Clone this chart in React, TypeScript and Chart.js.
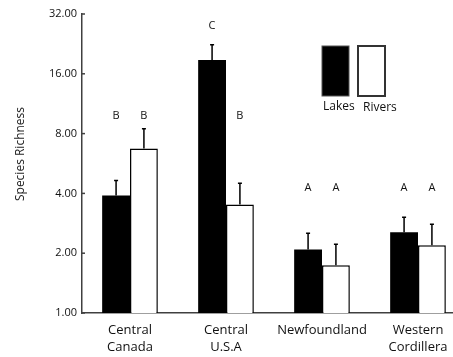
import React, { useEffect, useRef } from "react";
import { Chart, registerables } from "chart.js";
Chart.register(...registerables);

const categories = [["Central", "Canada"], ["Central", "U.S.A"], ["Newfoundland"], ["Western", "Cordillera"]];
const seriesNames = ["Lakes", "Rivers"];
const lakes = [3.9, 18.8, 2.09, 2.55];
const lakesSE = [0.75, 3.6, 0.43, 0.48];
const rivers = [6.73, 3.52, 1.74, 2.19];
const riversSE = [1.74, 0.98, 0.48, 0.61];
const lakesLetters = ["B", "C", "A", "A"];
const riversLetters = ["B", "B", "A", "A"];
const lakesLetterLevel = [9.85, 27.9, 4.29, 4.29];
const riversLetterLevel = [9.85, 9.85, 4.29, 4.29];
const yTicks = [1, 2, 4, 8, 16, 32];
const yTitle = "Species Richness";

const FONT = "'Open Sans'";

export default function App() {
  const ref = useRef<HTMLCanvasElement | null>(null);
  useEffect(() => {
    const canvas = ref.current!;
    const ses = [lakesSE, riversSE];
    const letters = [lakesLetters, riversLetters];
    const levels = [lakesLetterLevel, riversLetterLevel];
    const deco = {
      id: "deco",
      afterDatasetsDraw(chart: any) {
        const ctx = chart.ctx;
        const y = chart.scales.y;
        const area = chart.chartArea;
        ctx.save();
        chart.data.datasets.forEach((ds: any, di: number) => {
          const meta = chart.getDatasetMeta(di);
          meta.data.forEach((el: any, i: number) => {
            const v = ds.data[i];
            const top = y.getPixelForValue(v + ses[di][i]);
            ctx.strokeStyle = "#000";
            ctx.lineWidth = 1.5;
            ctx.beginPath();
            ctx.moveTo(el.x, el.y);
            ctx.lineTo(el.x, top);
            ctx.moveTo(el.x - 2, top);
            ctx.lineTo(el.x + 2, top);
            ctx.stroke();
            ctx.fillStyle = "#111";
            ctx.font = `11px ${FONT}`;
            ctx.textAlign = "center";
            ctx.textBaseline = "middle";
            ctx.fillText(letters[di][i], el.x, y.getPixelForValue(levels[di][i]));
          });
        });
        ctx.strokeStyle = "#404040";
        ctx.lineWidth = 1.5;
        yTicks.forEach((t) => {
          const py = y.getPixelForValue(t);
          ctx.beginPath();
          ctx.moveTo(area.left, py);
          ctx.lineTo(area.left + 3, py);
          ctx.stroke();
        });
        ctx.save();
        ctx.translate(21, 154);
        ctx.rotate(-Math.PI / 2);
        ctx.fillStyle = "#222";
        ctx.font = `12px ${FONT}`;
        ctx.textAlign = "center";
        ctx.textBaseline = "middle";
        ctx.fillText(yTitle, 0, 0);
        ctx.restore();
        const boxes = [
          { x: 322, fill: "#000", stroke: "#555", lw: 1 },
          { x: 358, fill: "#fff", stroke: "#333", lw: 2 },
        ];
        boxes.forEach((b) => {
          ctx.fillStyle = b.fill;
          ctx.fillRect(b.x, 46, 27, 50);
          ctx.strokeStyle = b.stroke;
          ctx.lineWidth = b.lw;
          ctx.strokeRect(b.x, 46, 27, 50);
        });
        ctx.fillStyle = "#111";
        ctx.font = `12px ${FONT}`;
        ctx.textAlign = "left";
        ctx.textBaseline = "middle";
        ctx.fillText(seriesNames[0], 323, 107);
        ctx.fillText(seriesNames[1], 363, 108);
        ctx.restore();
      },
    };
    const chart = new Chart(canvas, {
      type: "bar",
      data: {
        labels: categories as any,
        datasets: [
          { label: seriesNames[0], data: lakes, backgroundColor: "#000", borderWidth: 0 },
          { label: seriesNames[1], data: rivers, backgroundColor: "#fff", borderColor: "#000", borderWidth: 1.5 },
        ],
      },
      options: {
        responsive: false,
        animation: false,
        devicePixelRatio: 1,
        layout: { padding: { left: 0, top: 14, right: 4, bottom: 0 } },
        datasets: { bar: { barPercentage: 1, categoryPercentage: 0.58 } },
        plugins: { legend: { display: false }, tooltip: { enabled: false } },
        scales: {
          x: {
            grid: { display: false, drawTicks: false },
            border: { display: true, color: "#404040", width: 1.5 },
            ticks: { color: "#111", font: { family: FONT, size: 13, lineHeight: 1.3 }, padding: 9, maxRotation: 0, autoSkip: false },
            afterFit: (s: any) => { s.height = 44; },
          },
          y: {
            type: "logarithmic",
            min: 1,
            max: 32,
            grid: { display: false, drawTicks: false },
            border: { display: true, color: "#404040", width: 1.5 },
            ticks: {
              color: "#111",
              font: { family: FONT, size: 11 },
              padding: 5,
              callback: (v: any) => Number(v).toFixed(2),
            },
            afterBuildTicks: (s: any) => { s.ticks = yTicks.map((v) => ({ value: v })); },
            afterFit: (s: any) => { s.width = 82; },
          },
        },
      },
      plugins: [deco],
    } as any);
    return () => chart.destroy();
  }, []);
  return (
    <div style={{ position: "fixed", left: 0, top: 0, width: 453, height: 357, overflow: "hidden", background: "#fff" }}>
      <canvas ref={ref} width={470} height={357} style={{ display: "block" }} />
    </div>
  );
}
